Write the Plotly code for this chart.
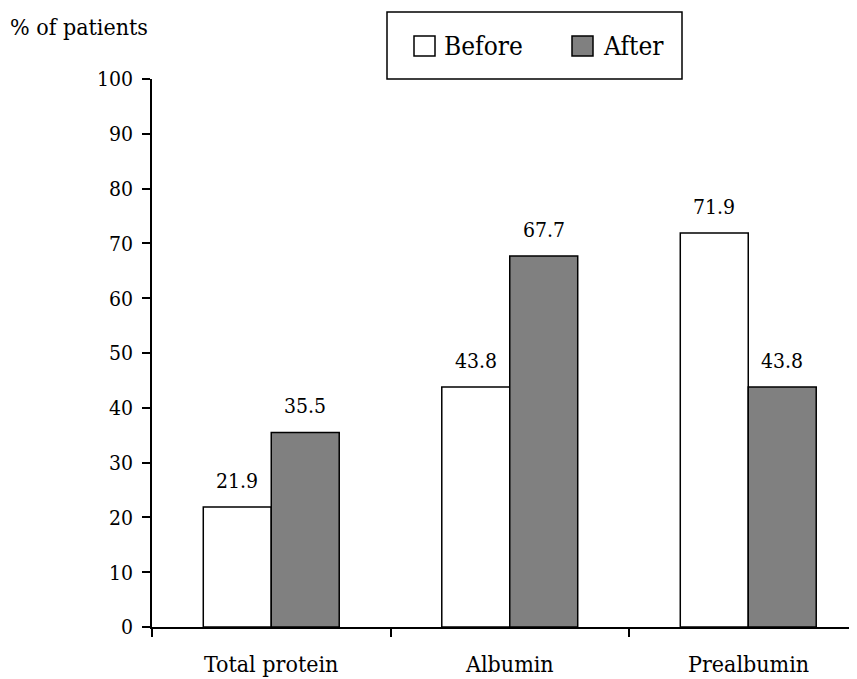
import plotly.graph_objects as go

categories = ["Total protein", "Albumin", "Prealbumin"]
before = [21.9, 43.8, 71.9]
after = [35.5, 67.7, 43.8]
y_ticks = [0, 10, 20, 30, 40, 50, 60, 70, 80, 90, 100]
series_names = ["Before", "After"]
series_colors = ["white", "#808080"]

FONT = "DejaVu Serif Condensed, DejaVu Serif"

# page-pixel -> paper coordinate helpers (plot area: x 152..857, y 79..627)
def px(x):
    return (x - 152) / 705.0

def py(y):
    return (627 - y) / 548.0

fig = go.Figure()
for name, vals, col in zip(series_names, [before, after], series_colors):
    fig.add_trace(go.Bar(x=categories, y=vals, name=name, showlegend=False,
                         marker=dict(color=col, line=dict(color="black", width=1.5))))

bargap = 0.43
w = (1 - bargap) / 2
for i, (b, a) in enumerate(zip(before, after)):
    for val, off in ((b, -w / 2), (a, w / 2)):
        fig.add_annotation(x=i + off, y=val, text=f"{val:.1f}", showarrow=False,
                           xref="x", yref="y", yanchor="bottom", yshift=12,
                           font=dict(family=FONT, size=21, color="black"))

fig.add_annotation(x=px(8), y=py(27), xref="paper", yref="paper",
                   xanchor="left", yanchor="middle", text="% of patients",
                   showarrow=False, font=dict(family=FONT, size=23, color="black"))

for i, c in enumerate(categories):
    fig.add_annotation(x=i, y=0, xref="x", yref="paper", yanchor="middle", yshift=-37,
                       text=c, showarrow=False,
                       font=dict(family=FONT, size=23, color="black"))

fig.add_shape(type="rect", xref="paper", yref="paper",
              x0=px(387), x1=px(682), y0=py(79), y1=py(12),
              line=dict(color="black", width=1.5), fillcolor="white")
legend_sq = [(414, 435), (572, 593)]
legend_tx = [442, 601]
for name, col, (x0, x1), tx in zip(series_names, series_colors, legend_sq, legend_tx):
    fig.add_shape(type="rect", xref="paper", yref="paper",
                  x0=px(x0), x1=px(x1), y0=py(56), y1=py(36),
                  line=dict(color="black", width=1.5), fillcolor=col)
    fig.add_annotation(x=px(tx), y=py(46), xref="paper", yref="paper",
                       xanchor="left", yanchor="middle", text=name, showarrow=False,
                       font=dict(family=FONT, size=26, color="black"))

fig.update_layout(
    width=849, height=671,
    margin=dict(l=144, r=0, t=71, b=52),
    paper_bgcolor="white", plot_bgcolor="white",
    barmode="group", bargap=bargap, bargroupgap=0,
    font=dict(family=FONT, size=21, color="black"),
    showlegend=False,
    xaxis=dict(range=[-0.5, -0.5 + 705 / 238.5], showline=True, linecolor="black",
               linewidth=1.5, tickmode="array", tickvals=[-0.5, 0.5, 1.5, 2.5],
               ticktext=["", "", "", ""], ticks="outside", ticklen=8, tickcolor="black",
               tickwidth=1.5, showgrid=False, zeroline=False),
    yaxis=dict(range=[0, 100], tickvals=y_ticks, showline=True, linecolor="black",
               linewidth=1.5, ticks="outside", ticklen=8, tickcolor="black",
               tickwidth=1.5, showgrid=False, zeroline=False, ticklabelstandoff=5,
               tickfont=dict(family=FONT, size=21, color="black")),
)

fig.write_html("out.html")
